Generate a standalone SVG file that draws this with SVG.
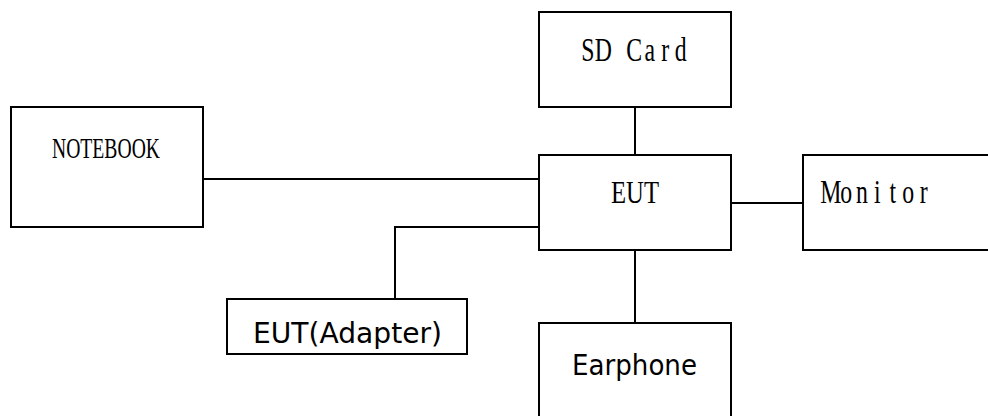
<svg xmlns="http://www.w3.org/2000/svg" width="988" height="416" viewBox="0 0 988 416">
<style>
.box{fill:#fff;stroke:#000;stroke-width:2}
.wire{fill:none;stroke:#000;stroke-width:2}
.serif{font-family:"Liberation Serif","Times New Roman",serif;fill:#000}
.sans{font-family:"DejaVu Sans",Verdana,sans-serif;fill:#000}
</style>
<rect width="988" height="416" fill="#fff"/>
<g id="connectors">
<line class="wire" x1="203" y1="179" x2="539" y2="179"/>
<line class="wire" x1="635" y1="107" x2="635" y2="155"/>
<line class="wire" x1="731" y1="203" x2="803" y2="203"/>
<polyline class="wire" points="539,227 395,227 395,299"/>
<line class="wire" x1="635" y1="250" x2="635" y2="323"/>
</g>
<g id="notebook">
<rect class="box" x="11" y="107" width="192" height="120"/>
<text class="serif" x="52" y="158" font-size="29" textLength="108" lengthAdjust="spacingAndGlyphs">NOTEBOOK</text>
</g>
<g id="sdcard">
<rect class="box" x="539" y="12" width="192" height="95"/>
<text class="serif" font-size="34" text-anchor="middle" transform="translate(634.25,61) scale(0.7,1)"><tspan x="-66.4">S</tspan><tspan x="-44.3">D</tspan><tspan x="0">C</tspan><tspan x="22.1">a</tspan><tspan x="44.3">r</tspan><tspan x="66.4">d</tspan></text>
</g>
<g id="eut">
<rect class="box" x="539" y="155" width="192" height="95"/>
<text class="serif" x="611" y="203" font-size="32" textLength="48" lengthAdjust="spacingAndGlyphs">EUT</text>
</g>
<g id="monitor">
<rect class="box" x="803" y="155" width="200" height="95"/>
<text class="serif" font-size="34" text-anchor="middle" transform="translate(877.3,203) scale(0.7,1)"><tspan x="-66.4">M</tspan><tspan x="-44.3">o</tspan><tspan x="-22.1">n</tspan><tspan x="0">i</tspan><tspan x="22.1">t</tspan><tspan x="44.3">o</tspan><tspan x="66.4">r</tspan></text>
</g>
<g id="adapter">
<rect class="box" x="227" y="299" width="240" height="55"/>
<text class="sans" x="253" y="343" font-size="27.5" textLength="189" lengthAdjust="spacingAndGlyphs">EUT(Adapter)</text>
</g>
<g id="earphone">
<rect class="box" x="539" y="323" width="192" height="110"/>
<text class="sans" x="572" y="375" font-size="27.5" textLength="125" lengthAdjust="spacingAndGlyphs">Earphone</text>
</g>
</svg>
